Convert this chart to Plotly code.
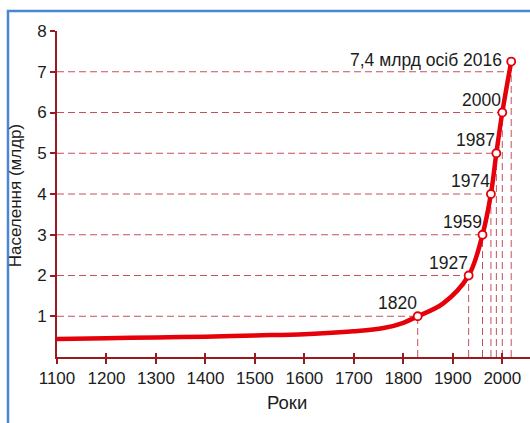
import plotly.graph_objects as go

# ---- data ----
curve_years = [1100, 1200, 1300, 1400, 1500, 1600, 1700, 1760, 1800, 1829,
               1880, 1932, 1960, 1977, 1988, 2000, 2018]
curve_pop = [0.44, 0.46, 0.48, 0.50, 0.53, 0.56, 0.63, 0.71, 0.84, 1.0,
             1.31, 2.0, 3.0, 4.0, 5.0, 6.0, 7.25]

milestone_years = [1829, 1932, 1960, 1977, 1988, 2000, 2018]   # plotted positions
milestone_pop = [1, 2, 3, 4, 5, 6, 7.25]
milestone_labels = ["1820", "1927", "1959", "1974", "1987", "2000", "7,4 млрд осіб 2016"]

grid7_level = 7
grid7_end_year = 2010

x_ticks = [1100, 1200, 1300, 1400, 1500, 1600, 1700, 1800, 1900, 2000]
y_ticks = [1, 2, 3, 4, 5, 6, 7, 8]

x_title = "Роки"
y_title = "Населення (млдр)"

# ---- styles ----
AXIS = "#9a1a22"
DASH = "#c4505c"
CURVE = "#e6000a"
TXT = "#1c1c1c"
FRAME = "#4a86d6"
SANS = "Liberation Sans, Arial, sans-serif"

X0 = x_ticks[0]

# dashed guide lines (horizontal to each milestone, vertical down to axis)
hx, hy, vx, vy = [], [], [], []
for xv, yv in zip(milestone_years[:-1], milestone_pop[:-1]):
    hx += [X0, xv, None]
    hy += [yv, yv, None]
hx += [X0, grid7_end_year, None]
hy += [grid7_level, grid7_level, None]
for xv, yv in zip(milestone_years, milestone_pop):
    vx += [xv, xv, None]
    vy += [0, yv, None]

fig = go.Figure()
fig.add_trace(go.Scatter(x=hx + vx, y=hy + vy, mode="lines",
                         line=dict(color=DASH, width=1, dash="7px,4px"),
                         hoverinfo="skip", showlegend=False))
fig.add_trace(go.Scatter(x=curve_years, y=curve_pop, mode="lines",
                         line=dict(color=CURVE, width=4.5, shape="spline", smoothing=1),
                         hoverinfo="skip", showlegend=False))
fig.add_trace(go.Scatter(x=milestone_years, y=milestone_pop, mode="markers",
                         marker=dict(size=8, color="white", line=dict(color=CURVE, width=1.8)),
                         hoverinfo="skip", showlegend=False))
# dummy trace for the overlay axis (crossing tick marks)
fig.add_trace(go.Scatter(x=[X0], y=[0], xaxis="x2", mode="markers",
                         marker=dict(opacity=0), hoverinfo="skip", showlegend=False))

annotations = []
for i, (xv, yv, lab) in enumerate(zip(milestone_years, milestone_pop, milestone_labels)):
    last = i == len(milestone_labels) - 1
    annotations.append(dict(
        x=xv, y=yv, xref="x", yref="y", text=lab, showarrow=False,
        xanchor="right", yanchor="middle" if last else "bottom",
        xshift=-7 if last else 1, yshift=2 if last else 1,
        font=dict(family=SANS, size=17.5, color=TXT)))

annotations.append(dict(x=0.486, y=-0.14, xref="paper", yref="paper", text=x_title,
                        showarrow=False, xanchor="center", yanchor="middle",
                        font=dict(family=SANS, size=18.5, color=TXT)))
annotations.append(dict(x=-0.0877, y=0.4946, xref="paper", yref="paper", text=y_title,
                        showarrow=False, xanchor="center", yanchor="middle", textangle=-90,
                        font=dict(family=SANS, size=17, color=TXT)))

fig.update_layout(
    width=530, height=423,
    margin=dict(l=57, r=0, t=31, b=66, pad=0),
    paper_bgcolor="white", plot_bgcolor="white",
    showlegend=False, hovermode=False,
    xaxis=dict(range=[1100, 2056], tickvals=x_ticks, ticks="outside", ticklen=5,
               tickwidth=2, tickcolor=AXIS, showline=True, linecolor=AXIS, linewidth=2,
               showgrid=False, zeroline=False, automargin=False,
               tickfont=dict(family=SANS, size=17, color=TXT)),
    xaxis2=dict(range=[1100, 2056], overlaying="x", anchor="y", tickvals=x_ticks,
                ticks="inside", ticklen=4, tickwidth=2, tickcolor=AXIS,
                showticklabels=False, showline=False, showgrid=False, zeroline=False),
    yaxis=dict(range=[0, 8], tickvals=y_ticks, ticks="outside", ticklen=5,
               tickwidth=2, tickcolor=AXIS, showline=True, linecolor=AXIS, linewidth=2,
               showgrid=False, zeroline=False, automargin=False,
               tickfont=dict(family=SANS, size=17, color=TXT)),
    annotations=annotations,
    shapes=[dict(type="rect", xref="paper", yref="paper",
                 x0=-0.1036, x1=1.2, y0=-0.6, y1=1.0613,
                 line=dict(color=FRAME, width=2.5), fillcolor="rgba(0,0,0,0)",
                 layer="below")],
)

fig.write_html("out.html", config={"displayModeBar": False},
               post_script="document.body.style.margin='0px';document.body.style.overflow='hidden';")
